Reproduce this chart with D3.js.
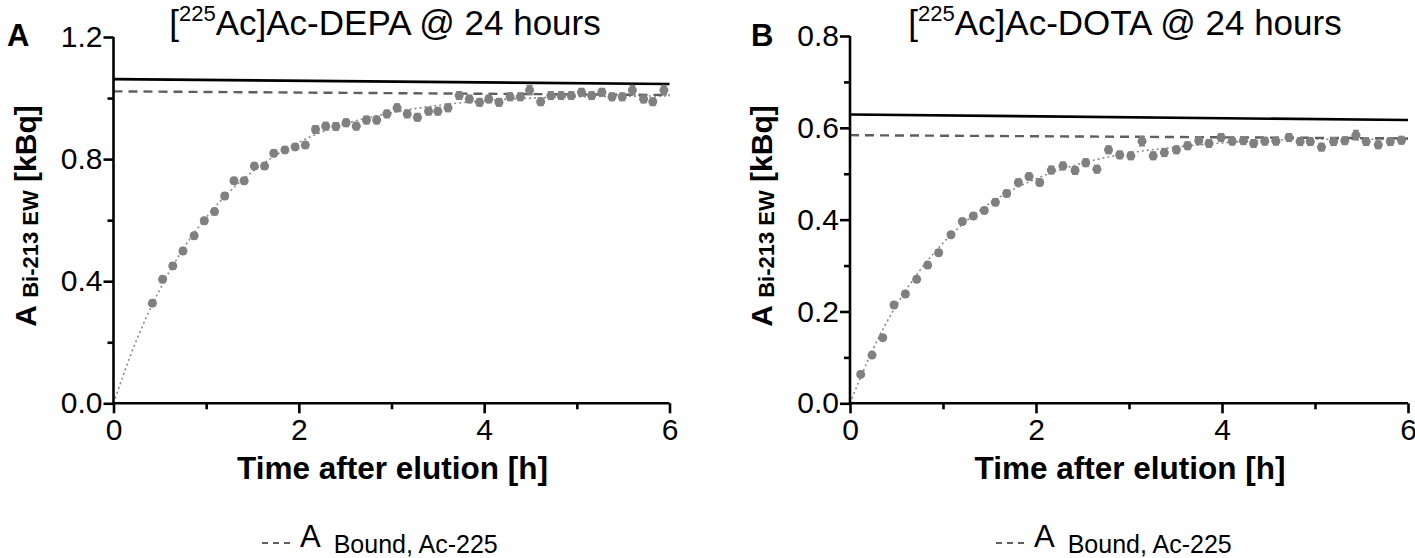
<!DOCTYPE html>
<html><head><meta charset="utf-8">
<script src="https://cdn.jsdelivr.net/npm/d3@7"></script>
<style>
html,body{margin:0;padding:0;background:#fff;}
svg{display:block;}
text{font-family:"Liberation Sans",Arial,sans-serif;}
.b{font-family:"Liberation Sans",Arial,sans-serif;font-weight:bold;}
</style></head>
<body>
<svg id="chart" width="1415" height="558"></svg>
<script>
// ---- Data ----
const timeA = [0.42,0.53,0.64,0.75,0.87,0.98,1.09,1.20,1.30,1.41,1.52,1.63,1.73,1.85,1.96,2.07,2.18,2.29,2.40,2.51,2.62,2.73,2.84,2.95,3.06,3.17,3.28,3.40,3.50,3.61,3.73,3.84,3.95,4.05,4.16,4.28,4.39,4.49,4.61,4.72,4.83,4.94,5.05,5.16,5.27,5.38,5.49,5.60,5.72,5.82,5.94];
const valueA = [0.328,0.406,0.450,0.499,0.549,0.598,0.628,0.679,0.729,0.729,0.777,0.777,0.819,0.830,0.840,0.846,0.897,0.908,0.907,0.919,0.908,0.928,0.928,0.948,0.968,0.948,0.937,0.957,0.957,0.968,1.008,0.997,0.986,0.997,0.986,1.004,1.004,1.026,0.988,1.008,1.008,1.008,1.019,1.008,1.019,1.004,1.004,1.026,0.997,0.988,1.026];
const errA = [0.010,0.010,0.010,0.010,0.010,0.010,0.010,0.010,0.010,0.010,0.010,0.010,0.010,0.010,0.010,0.010,0.012,0.012,0.012,0.012,0.012,0.012,0.012,0.012,0.012,0.012,0.012,0.012,0.012,0.012,0.012,0.012,0.012,0.012,0.012,0.012,0.012,0.015,0.012,0.012,0.012,0.012,0.012,0.012,0.012,0.012,0.012,0.015,0.012,0.012,0.015];
const fitTimeA = [0,0.25,0.5,0.75,1,1.25,1.5,2,2.5,3,3.5,4,5,6];
const fitValueA = [0,0.208,0.373,0.505,0.609,0.693,0.759,0.855,0.915,0.952,0.976,0.991,1.004,1.007];
const totalA = [1.062,1.046];     // solid line at t=0 and t=6
const boundA = [1.022,1.010];     // dashed line at t=0 and t=6

const timeB = [0.115,0.237,0.352,0.473,0.595,0.717,0.835,0.953,1.086,1.208,1.326,1.444,1.563,1.685,1.810,1.925,2.04,2.165,2.29,2.42,2.535,2.655,2.78,2.90,3.02,3.14,3.26,3.38,3.51,3.63,3.75,3.86,3.99,4.11,4.23,4.34,4.46,4.58,4.72,4.84,4.95,5.07,5.20,5.32,5.44,5.55,5.68,5.81,5.93];
const valueB = [0.063,0.105,0.143,0.214,0.238,0.270,0.301,0.328,0.367,0.396,0.408,0.420,0.438,0.457,0.481,0.494,0.481,0.508,0.517,0.507,0.524,0.510,0.552,0.541,0.539,0.571,0.539,0.546,0.552,0.561,0.572,0.566,0.579,0.571,0.572,0.566,0.571,0.571,0.579,0.570,0.570,0.558,0.570,0.572,0.584,0.570,0.563,0.570,0.573];
const errB = [0.006,0.006,0.006,0.006,0.006,0.006,0.006,0.006,0.006,0.006,0.006,0.006,0.007,0.007,0.007,0.007,0.007,0.008,0.008,0.008,0.008,0.008,0.008,0.008,0.008,0.010,0.008,0.008,0.008,0.008,0.008,0.008,0.008,0.008,0.008,0.008,0.008,0.008,0.008,0.008,0.008,0.008,0.008,0.008,0.010,0.008,0.008,0.008,0.008];
const fitTimeB = [0,0.25,0.5,0.75,1,1.25,1.5,2,2.5,3,3.5,4,5,6];
const fitValueB = [0,0.119,0.214,0.289,0.349,0.397,0.435,0.489,0.523,0.545,0.558,0.567,0.575,0.575];
const totalB = [0.629,0.617];
const boundB = [0.584,0.577];

const xTicks = [0,2,4,6];
const xMinor = [1,3,5];
const yTicksA = [0.0,0.4,0.8,1.2];
const yMinorA = [0.2,0.6,1.0];
const yTicksB = [0.0,0.2,0.4,0.6,0.8];
const yMinorB = [0.1,0.3,0.5,0.7];
const titles = ["Ac-DEPA @ 24 hours","Ac-DOTA @ 24 hours"];
const panelLabels = ["A","B"];

const svg = d3.select("#chart");

function panel(cfg){
  const g = svg.append("g");
  const x = d3.scaleLinear().domain([0,6]).range([cfg.x0,cfg.x1]);
  const y = d3.scaleLinear().domain([0,cfg.ymax]).range([403.3,cfg.ytop]);

  // fit curve (dotted)
  const fit = d3.range(cfg.fitT.length).map(i=>[cfg.fitT[i],cfg.fitV[i]]);
  g.append("path").datum(fit)
    .attr("d", d3.line().x(d=>x(d[0])).y(d=>y(d[1])).curve(d3.curveMonotoneX))
    .attr("fill","none").attr("stroke","#8a8a8a").attr("stroke-width",1.6).attr("stroke-dasharray","2,3");

  // solid total line
  g.append("path").datum([[0,cfg.total[0]],[6,cfg.total[1]]])
    .attr("d", d3.line().x(d=>x(d[0])).y(d=>y(d[1])))
    .attr("stroke","#000").attr("stroke-width",2.6).attr("fill","none");
  // dashed bound line
  g.append("path").datum([[0,cfg.bound[0]],[6,cfg.bound[1]]])
    .attr("d", d3.line().x(d=>x(d[0])).y(d=>y(d[1])))
    .attr("stroke","#5f5f5f").attr("stroke-width",2.4).attr("fill","none").attr("stroke-dasharray","9,6");

  // data points + error bars
  const pts = d3.range(cfg.t.length).map(i=>({t:cfg.t[i],v:cfg.v[i],e:cfg.e[i]}));
  const eb = g.append("g").attr("stroke","#808080").attr("stroke-width",1.6);
  eb.selectAll("line.v").data(pts).join("line")
    .attr("x1",d=>x(d.t)).attr("x2",d=>x(d.t)).attr("y1",d=>y(d.v-d.e)).attr("y2",d=>y(d.v+d.e));
  eb.selectAll("line.c1").data(pts).join("line")
    .attr("x1",d=>x(d.t)-3).attr("x2",d=>x(d.t)+3).attr("y1",d=>y(d.v+d.e)).attr("y2",d=>y(d.v+d.e));
  eb.selectAll("line.c2").data(pts).join("line")
    .attr("x1",d=>x(d.t)-3).attr("x2",d=>x(d.t)+3).attr("y1",d=>y(d.v-d.e)).attr("y2",d=>y(d.v-d.e));
  g.selectAll("circle").data(pts).join("circle")
    .attr("cx",d=>x(d.t)).attr("cy",d=>y(d.v)).attr("r",4.5).attr("fill","#808080");

  // axes
  const ax = g.append("g").attr("transform","translate(0,403.3)")
    .call(d3.axisBottom(x).tickValues(cfg.xTicks).tickFormat(d3.format("d")).tickSize(10).tickPadding(5));
  g.append("g").attr("transform","translate(0,403.3)")
    .call(d3.axisBottom(x).tickValues(cfg.xMinor).tickFormat("").tickSize(6))
    .select(".domain").remove();
  const ay = g.append("g").attr("transform",`translate(${cfg.x0},0)`)
    .call(d3.axisLeft(y).tickValues(cfg.yTicks).tickFormat(d3.format(".1f")).tickSize(10).tickPadding(1));
  g.append("g").attr("transform",`translate(${cfg.x0},0)`)
    .call(d3.axisLeft(y).tickValues(cfg.yMinor).tickFormat("").tickSize(6))
    .select(".domain").remove();
  g.selectAll(".domain").attr("stroke","#000").attr("stroke-width",2.6);
  g.selectAll(".tick line").attr("stroke","#000").attr("stroke-width",2.6);
  g.selectAll(".tick text").attr("font-family",'"Liberation Sans",Arial,sans-serif')
    .attr("font-size",30).attr("fill","#000");
  ax.selectAll(".domain").attr("d",`M${cfg.x0},0H${cfg.x1}`);
  ay.selectAll(".domain").attr("d",`M0,403.3V${cfg.ytop}`);

  // title
  const tt = g.append("text").attr("x",cfg.titleX).attr("y",35).attr("text-anchor","middle").attr("font-size",35);
  tt.append("tspan").text("[");
  tt.append("tspan").attr("font-size",22).attr("dy",-14).text("225");
  tt.append("tspan").attr("dy",14).text("Ac]"+cfg.title);

  // panel label
  g.append("text").attr("class","b").attr("x",cfg.labelX).attr("y",46).attr("font-size",31).text(cfg.label);

  // x axis title
  g.append("text").attr("class","b").attr("x",(cfg.x0+cfg.x1)/2 + 1).attr("y",479)
    .attr("text-anchor","middle").attr("font-size",31.5).text("Time after elution [h]");

  // y axis title
  const yt = g.append("text").attr("class","b")
    .attr("transform",`translate(${cfg.yTitleX},216) rotate(-90)`).attr("text-anchor","middle").attr("font-size",30);
  yt.append("tspan").text("A ");
  yt.append("tspan").attr("font-size",22).attr("dy",2).text("Bi-213 EW");
  yt.append("tspan").attr("dy",-2).text(" [kBq]");

  // legend
  const lx = cfg.legendX;
  g.append("line").attr("x1",lx).attr("x2",lx+30).attr("y1",543).attr("y2",543)
    .attr("stroke","#5f5f5f").attr("stroke-width",2).attr("stroke-dasharray","6,5");
  const lt = g.append("text").attr("x",lx+38).attr("y",547).attr("font-size",31);
  lt.append("tspan").text("A");
  lt.append("tspan").attr("font-size",25).attr("dx",13).attr("dy",6).text("Bound, Ac-225");
}

panel({x0:113.5,x1:669.5,ytop:37,ymax:1.2,t:timeA,v:valueA,e:errA,fitT:fitTimeA,fitV:fitValueA,
  total:totalA,bound:boundA,xTicks:xTicks,xMinor:xMinor,yTicks:yTicksA,yMinor:yMinorA,
  title:titles[0],label:panelLabels[0],titleX:385,labelX:7,yTitleX:36,legendX:262});
panel({x0:850,x1:1408,ytop:36,ymax:0.8,t:timeB,v:valueB,e:errB,fitT:fitTimeB,fitV:fitValueB,
  total:totalB,bound:boundB,xTicks:xTicks,xMinor:xMinor,yTicks:yTicksB,yMinor:yMinorB,
  title:titles[1],label:panelLabels[1],titleX:1125,labelX:751,yTitleX:772,legendX:996});
</script>
</body></html>
